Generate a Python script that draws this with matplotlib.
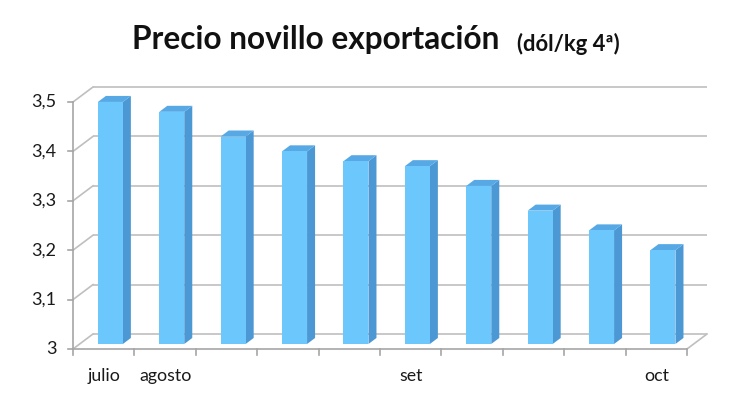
import matplotlib
matplotlib.use("Agg")
import matplotlib.pyplot as plt
from matplotlib.patches import Polygon
import numpy as np

# ---- data ----
categories = ["julio", "agosto", "", "", "", "set", "", "", "", "oct"]
values = [3.49, 3.47, 3.42, 3.39, 3.37, 3.36, 3.32, 3.27, 3.23, 3.19]
y_ticks = [3.0, 3.1, 3.2, 3.3, 3.4, 3.5]
y_tick_labels = ["3", "3,1", "3,2", "3,3", "3,4", "3,5"]
title_main = "Precio novillo exportación"
title_unit = "(dól/kg 4ª)"

FONT = ["Lato", "DejaVu Sans"]
GRID = "#BFBFBF"
AXC = "#A6A6A6"
FRONT = "#6CC8FC"
SIDE = "#4B98D4"
TOP = "#57A9E6"

fig = plt.figure(figsize=(7.5, 4.01), dpi=100)
ax = fig.add_axes([0, 0, 1, 1])
ax.set_xlim(-1.6889, 10.526)
ax.set_ylim(2.8947, 3.7065)
ax.axis("off")

n = len(values)
x0, x1 = -0.5, n - 0.5
ymin, ymax = y_ticks[0], y_ticks[-1]
DX, DY = 0.326, 0.0304        # depth offset of back wall
dxb, dyb = DX / 3, DY / 3      # bar front plane
ddx, ddy = 0.4 * DX, 0.4 * DY  # bar depth
w = 0.407

lw = 1.2
# back wall gridlines + left wall diagonals
for t in y_ticks:
    ax.plot([x0 + DX, x1 + DX], [t + DY, t + DY], color=GRID, lw=lw, zorder=1,
            solid_capstyle="butt")
    ax.plot([x0, x0 + DX], [t, t + DY], color=GRID, lw=lw, zorder=1)
# floor right edge
ax.plot([x1, x1 + DX], [ymin, ymin + DY], color=GRID, lw=lw, zorder=1)

# bars
for i, v in enumerate(values):
    xl = i + dxb - w / 2
    xr = i + dxb + w / 2
    b = ymin + dyb
    t = v + dyb
    ax.add_patch(Polygon([(xr, b), (xr, t), (xr + ddx, t + ddy), (xr + ddx, b + ddy)],
                         closed=True, facecolor=SIDE, edgecolor="none", zorder=3))
    ax.add_patch(Polygon([(xl, t), (xr, t), (xr + ddx, t + ddy), (xl + ddx, t + ddy)],
                         closed=True, facecolor=TOP, edgecolor="none", zorder=3))
ax.bar(np.arange(n) + dxb, np.array(values) - ymin, bottom=ymin + dyb, width=w,
       color=FRONT, edgecolor="none", zorder=4)

# front axes
ax.plot([x0, x0], [ymin, ymax], color=AXC, lw=lw, zorder=5)
ax.plot([x0, x1], [ymin, ymin], color=AXC, lw=lw, zorder=5)
tick_dy = 6 / 494
tick_dx = 5 / 61.4
for k in range(n + 1):
    xb = x0 + k
    ax.plot([xb, xb], [ymin, ymin - tick_dy], color=AXC, lw=lw, zorder=5)
for t, lab in zip(y_ticks, y_tick_labels):
    ax.plot([x0 - tick_dx, x0], [t, t], color=AXC, lw=lw, zorder=5)
    ax.text(x0 - 0.27, t, lab, ha="right", va="center", fontsize=13,
            family=FONT, color="#1a1a1a")
for i, lab in enumerate(categories):
    if lab:
        ax.text(i, ymin - 27 / 494, lab, ha="center", va="center", fontsize=12.8,
                family=FONT, color="#1a1a1a")

# titles
fig.text(132 / 750, 1 - 39 / 401, title_main, ha="left", va="center",
         fontsize=22.8, fontweight="bold", family=FONT, color="#111111")
fig.text(517 / 750, 1 - 44 / 401, title_unit, ha="left", va="center",
         fontsize=15.8, fontweight="bold", family=FONT, color="#111111")

fig.savefig("out.png", dpi=100)
